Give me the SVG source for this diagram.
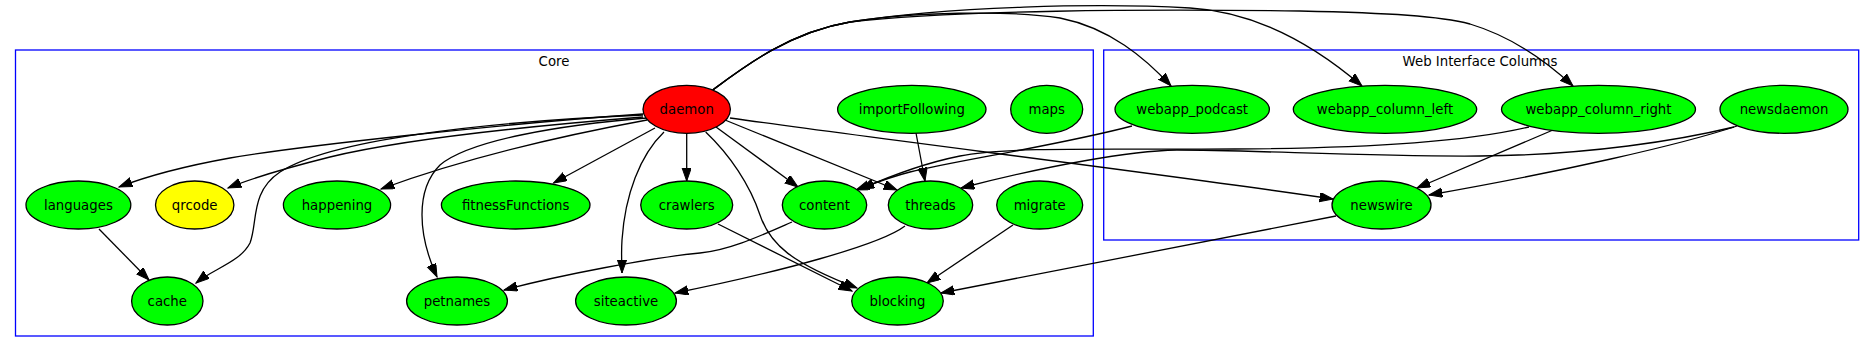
<svg xmlns="http://www.w3.org/2000/svg" width="1875" height="352" viewBox="0 0 1875 352">
<style>
text{font-family:"DejaVu Sans","Liberation Sans",sans-serif;font-size:13.3px;fill:#000;text-anchor:middle}
.n ellipse{stroke:#000;stroke-width:1.3}
.g{fill:#00ff00}
.cl{fill:none;stroke:#0000ff;stroke-width:1.3}
#edges path{fill:none;stroke:#000;stroke-width:1.3;marker-end:url(#ah)}
</style>
<defs>
<marker id="ah" markerWidth="15" markerHeight="11" refX="13.3" refY="4.7" orient="auto" markerUnits="userSpaceOnUse">
<path d="M0,0 L13.3,4.7 L0,9.4 z" fill="#000" stroke="#000" stroke-width="1"/>
</marker>
</defs>
<rect width="1875" height="352" fill="#fff"/>
<g id="cluster_core">
<rect class="cl" x="15.5" y="50" width="1077.8" height="286"/>
<text x="554" y="66">Core</text>
</g>
<g id="cluster_web">
<rect class="cl" x="1103.7" y="50" width="755" height="190"/>
<text x="1480" y="66">Web Interface Columns</text>
</g>
<g id="edges">
<path d="M643,114 C500,124 300,146 230,158 C180,167 145,177 119,187"/>
<path d="M643,117 C530,126 400,140 330,157 C290,167 255,177 228,188"/>
<path d="M643,115 C480,122 330,140 280,172 C250,192 258,222 250,243 C240,262 215,268 196,283"/>
<path d="M647,120 C560,136 460,160 381,189"/>
<path d="M655,128 L553.5,183"/>
<path d="M647,118 C560,125 470,140 440,165 C415,190 418,235 437,277"/>
<path d="M664,132 C640,155 625,195 622,240 C621,255 622,265 622,273"/>
<path d="M686.7,133 L686.7,181"/>
<path d="M716,127 L798,187"/>
<path d="M725,120 L897,190"/>
<path d="M705.7,132 C730,155 750,185 760,215 C770,245 792,263 857,288"/>
<path d="M730,118 C900,142 1150,172 1333,199"/>
<path d="M712.7,90 C745,66 790,32 850,22 C910,12 1010,10 1060,18 C1110,28 1145,58 1171,86"/>
<path d="M712.7,90 C745,66 790,32 850,22 C950,6 1100,3 1190,8 C1260,12 1320,50 1362,86"/>
<path d="M712.7,90 C745,66 790,32 850,22 C950,10 1150,9 1300,11 C1390,13 1440,16 1470,24 C1510,36 1545,60 1573,86"/>
<path d="M99,229 L149,280"/>
<path d="M916,133 L925,181"/>
<path d="M718,224 L852,291"/>
<path d="M792,222 C760,236 730,250 700,253 C650,258 560,275 504,290"/>
<path d="M905,226 C880,245 780,272 675,293"/>
<path d="M1013,225 L927,283"/>
<path d="M1132,126 C1060,145 960,160 910,172 C890,177 875,183 856,190"/>
<path d="M1529,127 C1470,141 1380,148 1235,149 C1120,150 1010,146 960,156 C920,164 888,177 861,189"/>
<path d="M1734,127 C1680,140 1590,155 1480,156 C1380,157 1250,150 1177,150 C1130,151 1050,165 961,188"/>
<path d="M1737,126 C1680,145 1560,172 1429,195"/>
<path d="M1553,130 L1417,188"/>
<path d="M1336,216 L941,293"/>
</g>
<g id="daemon" class="n"><ellipse cx="686.7" cy="109.3" rx="43.7" ry="24" fill="#ff0000"/><text x="686.7" y="114">daemon</text></g>
<g id="importFollowing" class="n"><ellipse class="g" cx="911.8" cy="109.3" rx="74.2" ry="24"/><text x="911.8" y="114">importFollowing</text></g>
<g id="maps" class="n"><ellipse class="g" cx="1046.7" cy="109.3" rx="36" ry="24"/><text x="1046.7" y="114">maps</text></g>
<g id="languages" class="n"><ellipse class="g" cx="78.4" cy="205" rx="52.4" ry="24"/><text x="78.4" y="209.7">languages</text></g>
<g id="qrcode" class="n"><ellipse cx="194.7" cy="205" rx="39.2" ry="24" fill="#ffff00"/><text x="194.7" y="209.7">qrcode</text></g>
<g id="happening" class="n"><ellipse class="g" cx="337" cy="205" rx="53.6" ry="24"/><text x="337" y="209.7">happening</text></g>
<g id="fitnessFunctions" class="n"><ellipse class="g" cx="515.7" cy="205" rx="74.3" ry="24"/><text x="515.7" y="209.7">fitnessFunctions</text></g>
<g id="crawlers" class="n"><ellipse class="g" cx="686.7" cy="205" rx="46" ry="24"/><text x="686.7" y="209.7">crawlers</text></g>
<g id="content" class="n"><ellipse class="g" cx="824.5" cy="205" rx="42.2" ry="24"/><text x="824.5" y="209.7">content</text></g>
<g id="threads" class="n"><ellipse class="g" cx="930.5" cy="205" rx="42.2" ry="24"/><text x="930.5" y="209.7">threads</text></g>
<g id="migrate" class="n"><ellipse class="g" cx="1039.7" cy="205" rx="43" ry="24"/><text x="1039.7" y="209.7">migrate</text></g>
<g id="cache" class="n"><ellipse class="g" cx="167.3" cy="301" rx="35.7" ry="24"/><text x="167.3" y="305.7">cache</text></g>
<g id="petnames" class="n"><ellipse class="g" cx="457" cy="301" rx="50.4" ry="24"/><text x="457" y="305.7">petnames</text></g>
<g id="siteactive" class="n"><ellipse class="g" cx="626" cy="301" rx="50.4" ry="24"/><text x="626" y="305.7">siteactive</text></g>
<g id="blocking" class="n"><ellipse class="g" cx="897.5" cy="301" rx="45.8" ry="24"/><text x="897.5" y="305.7">blocking</text></g>
<g id="webapp_podcast" class="n"><ellipse class="g" cx="1192.2" cy="109.3" rx="77.2" ry="24"/><text x="1192.2" y="114">webapp_podcast</text></g>
<g id="webapp_column_left" class="n"><ellipse class="g" cx="1385" cy="109.3" rx="91.7" ry="24"/><text x="1385" y="114">webapp_column_left</text></g>
<g id="webapp_column_right" class="n"><ellipse class="g" cx="1598.5" cy="109.3" rx="97" ry="24"/><text x="1598.5" y="114">webapp_column_right</text></g>
<g id="newsdaemon" class="n"><ellipse class="g" cx="1784" cy="109.3" rx="64" ry="24"/><text x="1784" y="114">newsdaemon</text></g>
<g id="newswire" class="n"><ellipse class="g" cx="1381.5" cy="205" rx="49.5" ry="24"/><text x="1381.5" y="209.7">newswire</text></g>
</svg>
